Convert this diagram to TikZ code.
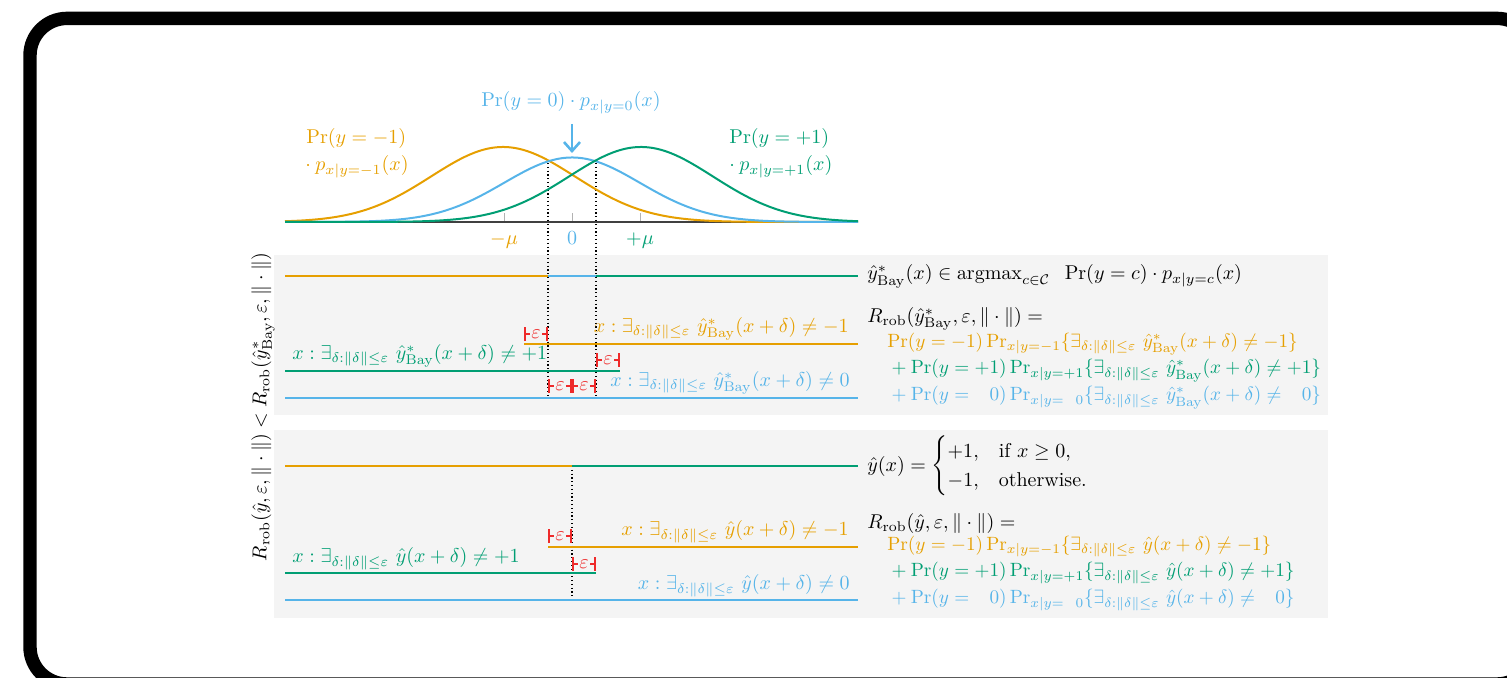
\documentclass[tikz,border=0pt]{standalone}
\usepackage{amsmath}
\usepackage{graphicx}
\usetikzlibrary{arrows.meta}
\definecolor{cor}{HTML}{E69F00}
\definecolor{cbl}{HTML}{56B4E9}
\definecolor{cgr}{HTML}{009E73}
\definecolor{cre}{HTML}{EE2A2A}
\definecolor{panel}{HTML}{F4F4F4}
\newcommand\ybay{\hat{y}^*_{\mathrm{Bay}}}
\newcommand\exd{\exists_{\delta:\|\delta\|\le\varepsilon}}
\newcommand\rowsc[1]{\scalebox{0.96}{#1}}
\begin{document}
\begin{tikzpicture}[x=0.5pt,y=-0.5pt,
  decline/.style={line width=1.4pt},
  curveline/.style={line width=1pt},
  guide/.style={black, line width=0.6pt, dash pattern=on 0.6pt off 1.3pt},
  epsbar/.style={cre, line width=0.9pt, {Bar[width=7pt]}-{Bar[width=7pt]}},
  epslbl/.style={fill=panel, inner sep=0.6pt, text=cre},
  lbl/.style={inner sep=0pt},
  tickline/.style={gray!60, line width=0.5pt},
]
\useasboundingbox (0,0) rectangle (1507,678);
% frame
\begin{scope}
\clip (0,0) rectangle (1507,678);
\draw[line width=6.7pt, rounded corners=18.5pt] (30,18.4) rectangle (1534,684);
\end{scope}
% panels
\fill[panel] (274,255) rectangle (1328,415);
\fill[panel] (274,430) rectangle (1328,618);

% axis
\coordinate (axL) at (285,222);
\coordinate (axR) at (858,222);
\coordinate (tmu) at (504,222);
\coordinate (tz) at (572,222);
\coordinate (tpmu) at (640,222);
\draw[tickline] (tmu) -- ++(0,-9);
\draw[tickline] (tz) -- ++(0,-9);
\draw[tickline] (tpmu) -- ++(0,-9);
\draw[black!75, line width=0.6pt] (axL) -- (axR);

% dotted guides
\coordinate (g1t) at (548,163); \coordinate (g1b) at (548,398);
\coordinate (g2t) at (596,163); \coordinate (g2b) at (596,398);
\coordinate (g3t) at (572,466); \coordinate (g3b) at (572,600);
\draw[guide] (g1t) -- (g1b);
\draw[guide] (g2t) -- (g2b);
\draw[guide] (g3t) -- (g3b);

% curves
\draw[cor, curveline] plot[domain=285:858, samples=200, smooth] (\x, {222-75*exp(-0.5*((\x-503)/72)^2)});
\draw[cbl, curveline] plot[domain=285:858, samples=200, smooth] (\x, {222-64.5*exp(-0.5*((\x-572)/68)^2)});
\draw[cgr, curveline] plot[domain=285:858, samples=200, smooth] (\x, {222-75*exp(-0.5*((\x-641)/72)^2)});

% top labels
\node[lbl, cbl] (ptop) at (571,103) {$\Pr(y=0)\cdot p_{x|y=0}(x)$};
\coordinate (arS) at (572,124);
\coordinate (arE) at (572,153);
\draw[cbl, line width=1.3pt, -{Straight Barb[length=4.5pt,width=8pt]}] (arS) -- (arE);
\node[lbl, cor, anchor=west] (pmA) at (306,139) {$\Pr(y=-1)$};
\node[lbl, cor, anchor=west] (pmB) at (305,167) {$\mathord{\cdot}\mskip\medmuskip p_{x|y=-1}(x)$};
\node[lbl, cgr, anchor=west] (ppA) at (729,139) {$\Pr(y=+1)$};
\node[lbl, cgr, anchor=west] (ppB) at (729,167) {$\mathord{\cdot}\mskip\medmuskip p_{x|y=+1}(x)$};
\node[lbl, cor, anchor=base] (lmu) at (504,245) {$-\mu$};
\node[lbl, cbl, anchor=base] (lz) at (572,245) {$0$};
\node[lbl, cgr, anchor=base] (lpmu) at (640,245) {$+\mu$};

% panel 1: Bayes classifier
\coordinate (d1a) at (285,276); \coordinate (d1b) at (548,276);
\coordinate (d1c) at (596,276); \coordinate (d1d) at (858,276);
\draw[cor, decline] (d1a) -- (d1b);
\draw[cbl, decline] (d1b) -- (d1c);
\draw[cgr, decline] (d1c) -- (d1d);

\coordinate (r1oa) at (524,344); \coordinate (r1ob) at (858,344);
\coordinate (r1ga) at (285,371); \coordinate (r1gb) at (620,371);
\coordinate (r1ba) at (285,398); \coordinate (r1bb) at (858,398);
\draw[cor, decline] (r1oa) -- (r1ob);
\draw[cgr, decline] (r1ga) -- (r1gb);
\draw[cbl, decline] (r1ba) -- (r1bb);

\node[lbl, cor, anchor=south east] (lo1) at (849,341) {$x : \exd\ \ybay(x+\delta)\neq -1$};
\node[lbl, cgr, anchor=south west] (lg1) at (292,368) {$x : \exd\ \ybay(x+\delta)\neq +1$};
\node[lbl, cbl, anchor=south east] (lb1) at (850,395) {$x : \exd\ \ybay(x+\delta)\neq 0$};

\coordinate (e1a) at (524,334); \coordinate (e1b) at (548,334);
\coordinate (e2a) at (596,360); \coordinate (e2b) at (620,360);
\coordinate (e3a) at (548,386); \coordinate (e3b) at (572,386); \coordinate (e3c) at (596,386);
\draw[epsbar] (e1a) -- node[epslbl] (eps1) {$\varepsilon$} (e1b);
\draw[epsbar] (e2a) -- node[epslbl] (eps2) {$\varepsilon$} (e2b);
\draw[epsbar] (e3a) -- node[epslbl] (eps3) {$\varepsilon$} (e3b);
\draw[epsbar] (e3b) -- node[epslbl] (eps4) {$\varepsilon$} (e3c);

\node[lbl, anchor=west] (bay) at (867,276.5) {$\ybay(x)\in\operatorname{argmax}_{c\in\mathcal{C}}\;\;\Pr(y=c)\cdot p_{x|y=c}(x)$};
\node[lbl, anchor=west] (rb0) at (867,319) {$R_{\mathrm{rob}}(\ybay,\varepsilon,\|\cdot\|) =$};
\node[lbl, cor, anchor=west] (rb1) at (887,344) {\rowsc{$\Pr(y=-1)\Pr_{x|y=-1}\{\exd\ \ybay(x+\delta)\neq -1\}$}};
\node[lbl, cgr, anchor=west] (rb2) at (887,370.5) {\rowsc{${}+\Pr(y=+1)\Pr_{x|y=+1}\{\exd\ \ybay(x+\delta)\neq +1\}$}};
\node[lbl, cbl, anchor=west] (rb3) at (887,397.5) {\rowsc{${}+\Pr(y=\phantom{+}0)\Pr_{x|y=\phantom{+}0}\{\exd\ \ybay(x+\delta)\neq \phantom{+}0\}$}};

% panel 2: threshold classifier
\coordinate (d2a) at (285,466); \coordinate (d2b) at (572,466); \coordinate (d2c) at (858,466);
\draw[cor, decline] (d2a) -- (d2b);
\draw[cgr, decline] (d2b) -- (d2c);

\coordinate (r2oa) at (548,547); \coordinate (r2ob) at (858,547);
\coordinate (r2ga) at (285,573); \coordinate (r2gb) at (596,573);
\coordinate (r2ba) at (285,600); \coordinate (r2bb) at (858,600);
\draw[cor, decline] (r2oa) -- (r2ob);
\draw[cgr, decline] (r2ga) -- (r2gb);
\draw[cbl, decline] (r2ba) -- (r2bb);

\node[lbl, cor, anchor=south east] (lo2) at (849,543) {$x : \exd\ \hat{y}(x+\delta)\neq -1$};
\node[lbl, cgr, anchor=south west] (lg2) at (292,570) {$x : \exd\ \hat{y}(x+\delta)\neq +1$};
\node[lbl, cbl, anchor=south east] (lb2) at (850,597) {$x : \exd\ \hat{y}(x+\delta)\neq 0$};

\coordinate (f1a) at (548,536); \coordinate (f1b) at (572,536);
\coordinate (f2a) at (572,564); \coordinate (f2b) at (596,564);
\draw[epsbar] (f1a) -- node[epslbl] (eps5) {$\varepsilon$} (f1b);
\draw[epsbar] (f2a) -- node[epslbl] (eps6) {$\varepsilon$} (f2b);

\node[lbl, anchor=west] (thr) at (867,466) {$\hat{y}(x) = \begin{cases} +1, & \text{if } x\ge 0,\\ -1, & \text{otherwise.}\end{cases}$};
\node[lbl, anchor=west] (rt0) at (867,523) {$R_{\mathrm{rob}}(\hat{y},\varepsilon,\|\cdot\|) =$};
\node[lbl, cor, anchor=west] (rt1) at (887,546.5) {\rowsc{$\Pr(y=-1)\Pr_{x|y=-1}\{\exd\ \hat{y}(x+\delta)\neq -1\}$}};
\node[lbl, cgr, anchor=west] (rt2) at (887,573) {\rowsc{${}+\Pr(y=+1)\Pr_{x|y=+1}\{\exd\ \hat{y}(x+\delta)\neq +1\}$}};
\node[lbl, cbl, anchor=west] (rt3) at (887,600) {\rowsc{${}+\Pr(y=\phantom{+}0)\Pr_{x|y=\phantom{+}0}\{\exd\ \hat{y}(x+\delta)\neq \phantom{+}0\}$}};

% side label
\node[lbl, rotate=90] (side) at (263,407) {$R_{\mathrm{rob}}(\hat{y},\varepsilon,\|\cdot\|) < R_{\mathrm{rob}}(\ybay,\varepsilon,\|\cdot\|)$};
\end{tikzpicture}
\end{document}
